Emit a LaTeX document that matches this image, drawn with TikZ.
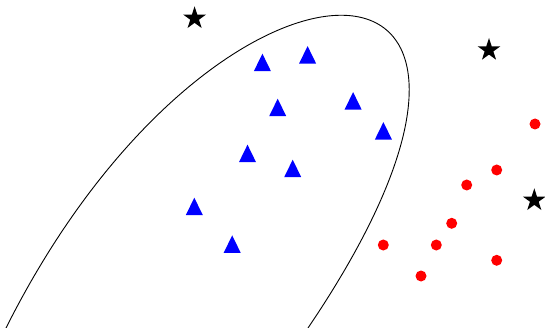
\documentclass[tikz,border=0pt]{standalone}
\usetikzlibrary{shapes.geometric}
\tikzset{
  tri/.style={isosceles triangle, isosceles triangle apex angle=52, shape border rotate=90,
    fill=blue, draw=none, inner sep=0pt, minimum width=17pt, minimum height=17pt},
  dot/.style={circle, fill=red, draw=none, inner sep=0pt, minimum size=11pt},
  starmark/.style={star, star points=5, star point ratio=2.618, fill=black, draw=none,
    inner sep=0pt, minimum size=24pt},
  boundary/.style={draw=black, line width=0.9pt}
}
\begin{document}
\begin{tikzpicture}[x=1pt,y=-1pt]
\useasboundingbox (0,0) rectangle (545,328);
\fill[white] (0,0) rectangle (545,328);
\begin{scope}
\clip (0,0) rectangle (545,328);
\coordinate (c0) at (6,328);
\coordinate (c3) at (308,328);
\draw[boundary] (c0) .. controls (215,-89) and (590,-89) .. (c3);
\end{scope}
% triangles
\node[tri] (t1) at (262.4,65.8) {};
\node[tri] (t2) at (307.6,58.2) {};
\node[tri] (t3) at (277.7,110.8) {};
\node[tri] (t4) at (353.1,104.2) {};
\node[tri] (t5) at (383.4,134.2) {};
\node[tri] (t6) at (247.5,156.8) {};
\node[tri] (t7) at (292.7,171.8) {};
\node[tri] (t8) at (194.3,209.8) {};
\node[tri] (t9) at (232.2,247.5) {};
% dots
\node[dot] (d1) at (535,124) {};
\node[dot] (d2) at (496.7,170) {};
\node[dot] (d3) at (466.7,185) {};
\node[dot] (d4) at (451.7,223.3) {};
\node[dot] (d5) at (383.3,245) {};
\node[dot] (d6) at (436.3,245) {};
\node[dot] (d7) at (496.7,260.3) {};
\node[dot] (d8) at (421,276) {};
% stars
\node[starmark] (s1) at (194.6,18.3) {};
\node[starmark] (s2) at (489,50) {};
\node[starmark] (s3) at (534.3,200.3) {};
\end{tikzpicture}
\end{document}
